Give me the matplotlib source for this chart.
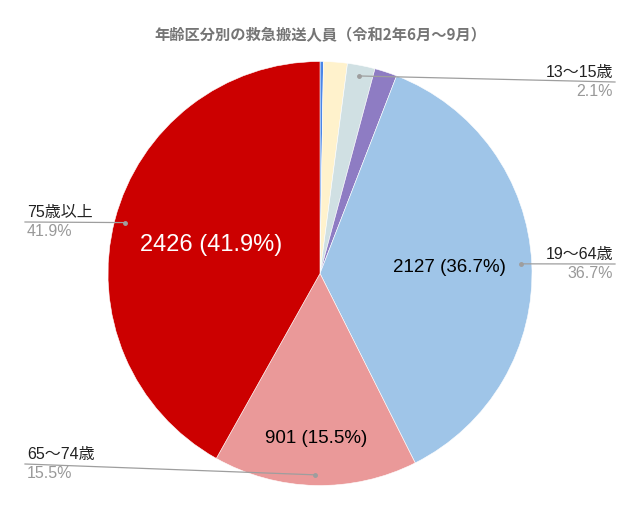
import numpy as np
import matplotlib
matplotlib.use("Agg")
from matplotlib import pyplot as plt

plt.rcParams['font.family'] = ['Liberation Sans', 'Noto Sans CJK JP', 'DejaVu Sans']

# データ（令和2年6月～9月、年齢区分別の救急搬送人員）
categories = ['0～6歳', '7～12歳', '13～15歳', '16～18歳', '19～64歳', '65～74歳', '75歳以上']
counts = [15, 105, 122, 99, 2127, 901, 2426]
colors = ['#4a86e8', '#fff2cc', '#d0e0e3', '#8e7cc3', '#9fc5e8', '#ea9999', '#cc0000']

# 外側ラベルを付ける区分
outer_labeled = ['13～15歳', '19～64歳', '65～74歳', '75歳以上']
# 内側ラベル（値 + 割合）
inner_labeled = ['19～64歳', '65～74歳', '75歳以上']

title = '年齢区分別の救急搬送人員（令和2年6月～9月）'

W, H = 640, 511
fig = plt.figure(figsize=(W / 100, H / 100), dpi=100)
R = 212
cx, cy = 320, 273.5
ax = fig.add_axes([(cx - R) / W, (H - cy - R) / H, 2 * R / W, 2 * R / H])

wedges, _ = ax.pie(counts, colors=colors, startangle=90, counterclock=False,
                   radius=1, wedgeprops=dict(edgecolor='white', linewidth=0.4))
ax.set_xlim(-1, 1)
ax.set_ylim(-1, 1)
ax.set_aspect('equal')
ax.axis('off')

total = sum(counts)

def mid_angle(w):
    return np.deg2rad((w.theta1 + w.theta2) / 2)

# 内側ラベルの配置（中心からの距離, 文字色, サイズ）
inner_style = {
    '19～64歳': (0.61, '#000000', 13.5),
    '65～74歳': (0.78, '#000000', 13.5),
    '75歳以上': (0.53, '#ffffff', 17),
}
for name in inner_labeled:
    i = categories.index(name)
    a = mid_angle(wedges[i])
    r, col, fs = inner_style[name]
    ax.text(r * np.cos(a), r * np.sin(a),
            f"{counts[i]} ({counts[i] / total * 100:.1f}%)",
            ha='center', va='center', color=col, fontsize=fs)

# 外側ラベル：線の終点（ピクセル座標）と向き
outer_end = {
    '13～15歳': (615, 82, 'right'),
    '19～64歳': (615, 264, 'right'),
    '65～74歳': (25, 464, 'left'),
    '75歳以上': (25, 222, 'left'),
}
for name in outer_labeled:
    i = categories.index(name)
    a = mid_angle(wedges[i])
    dx, dy = 0.95 * np.cos(a), 0.95 * np.sin(a)
    px, py, side = outer_end[name]
    ex, ey = (px - cx) / R, (cy - py) / R
    ax.plot([dx, ex], [dy, ey], color='#9e9e9e', linewidth=0.9, clip_on=False)
    ax.plot([dx], [dy], 'o', color='#9e9e9e', markersize=2.5, clip_on=False)
    tx = ex - 0.01 if side == 'right' else ex + 0.01
    ax.annotate(name, (tx, ey), xytext=(0, 1.5), textcoords='offset points',
                ha=side, va='bottom', fontsize=11.5, color='#222222',
                annotation_clip=False)
    ax.annotate(f"{counts[i] / total * 100:.1f}%", (tx, ey), xytext=(0, -1.5),
                textcoords='offset points', ha=side, va='top', fontsize=11.5,
                color='#999999', annotation_clip=False)

fig.text(0.5, 1 - 35 / H, title, ha='center', va='center', fontsize=11,
         fontweight='bold', color='#757575',
         family=['Noto Sans CJK JP', 'DejaVu Sans'])

fig.savefig('out.png', dpi=100)
